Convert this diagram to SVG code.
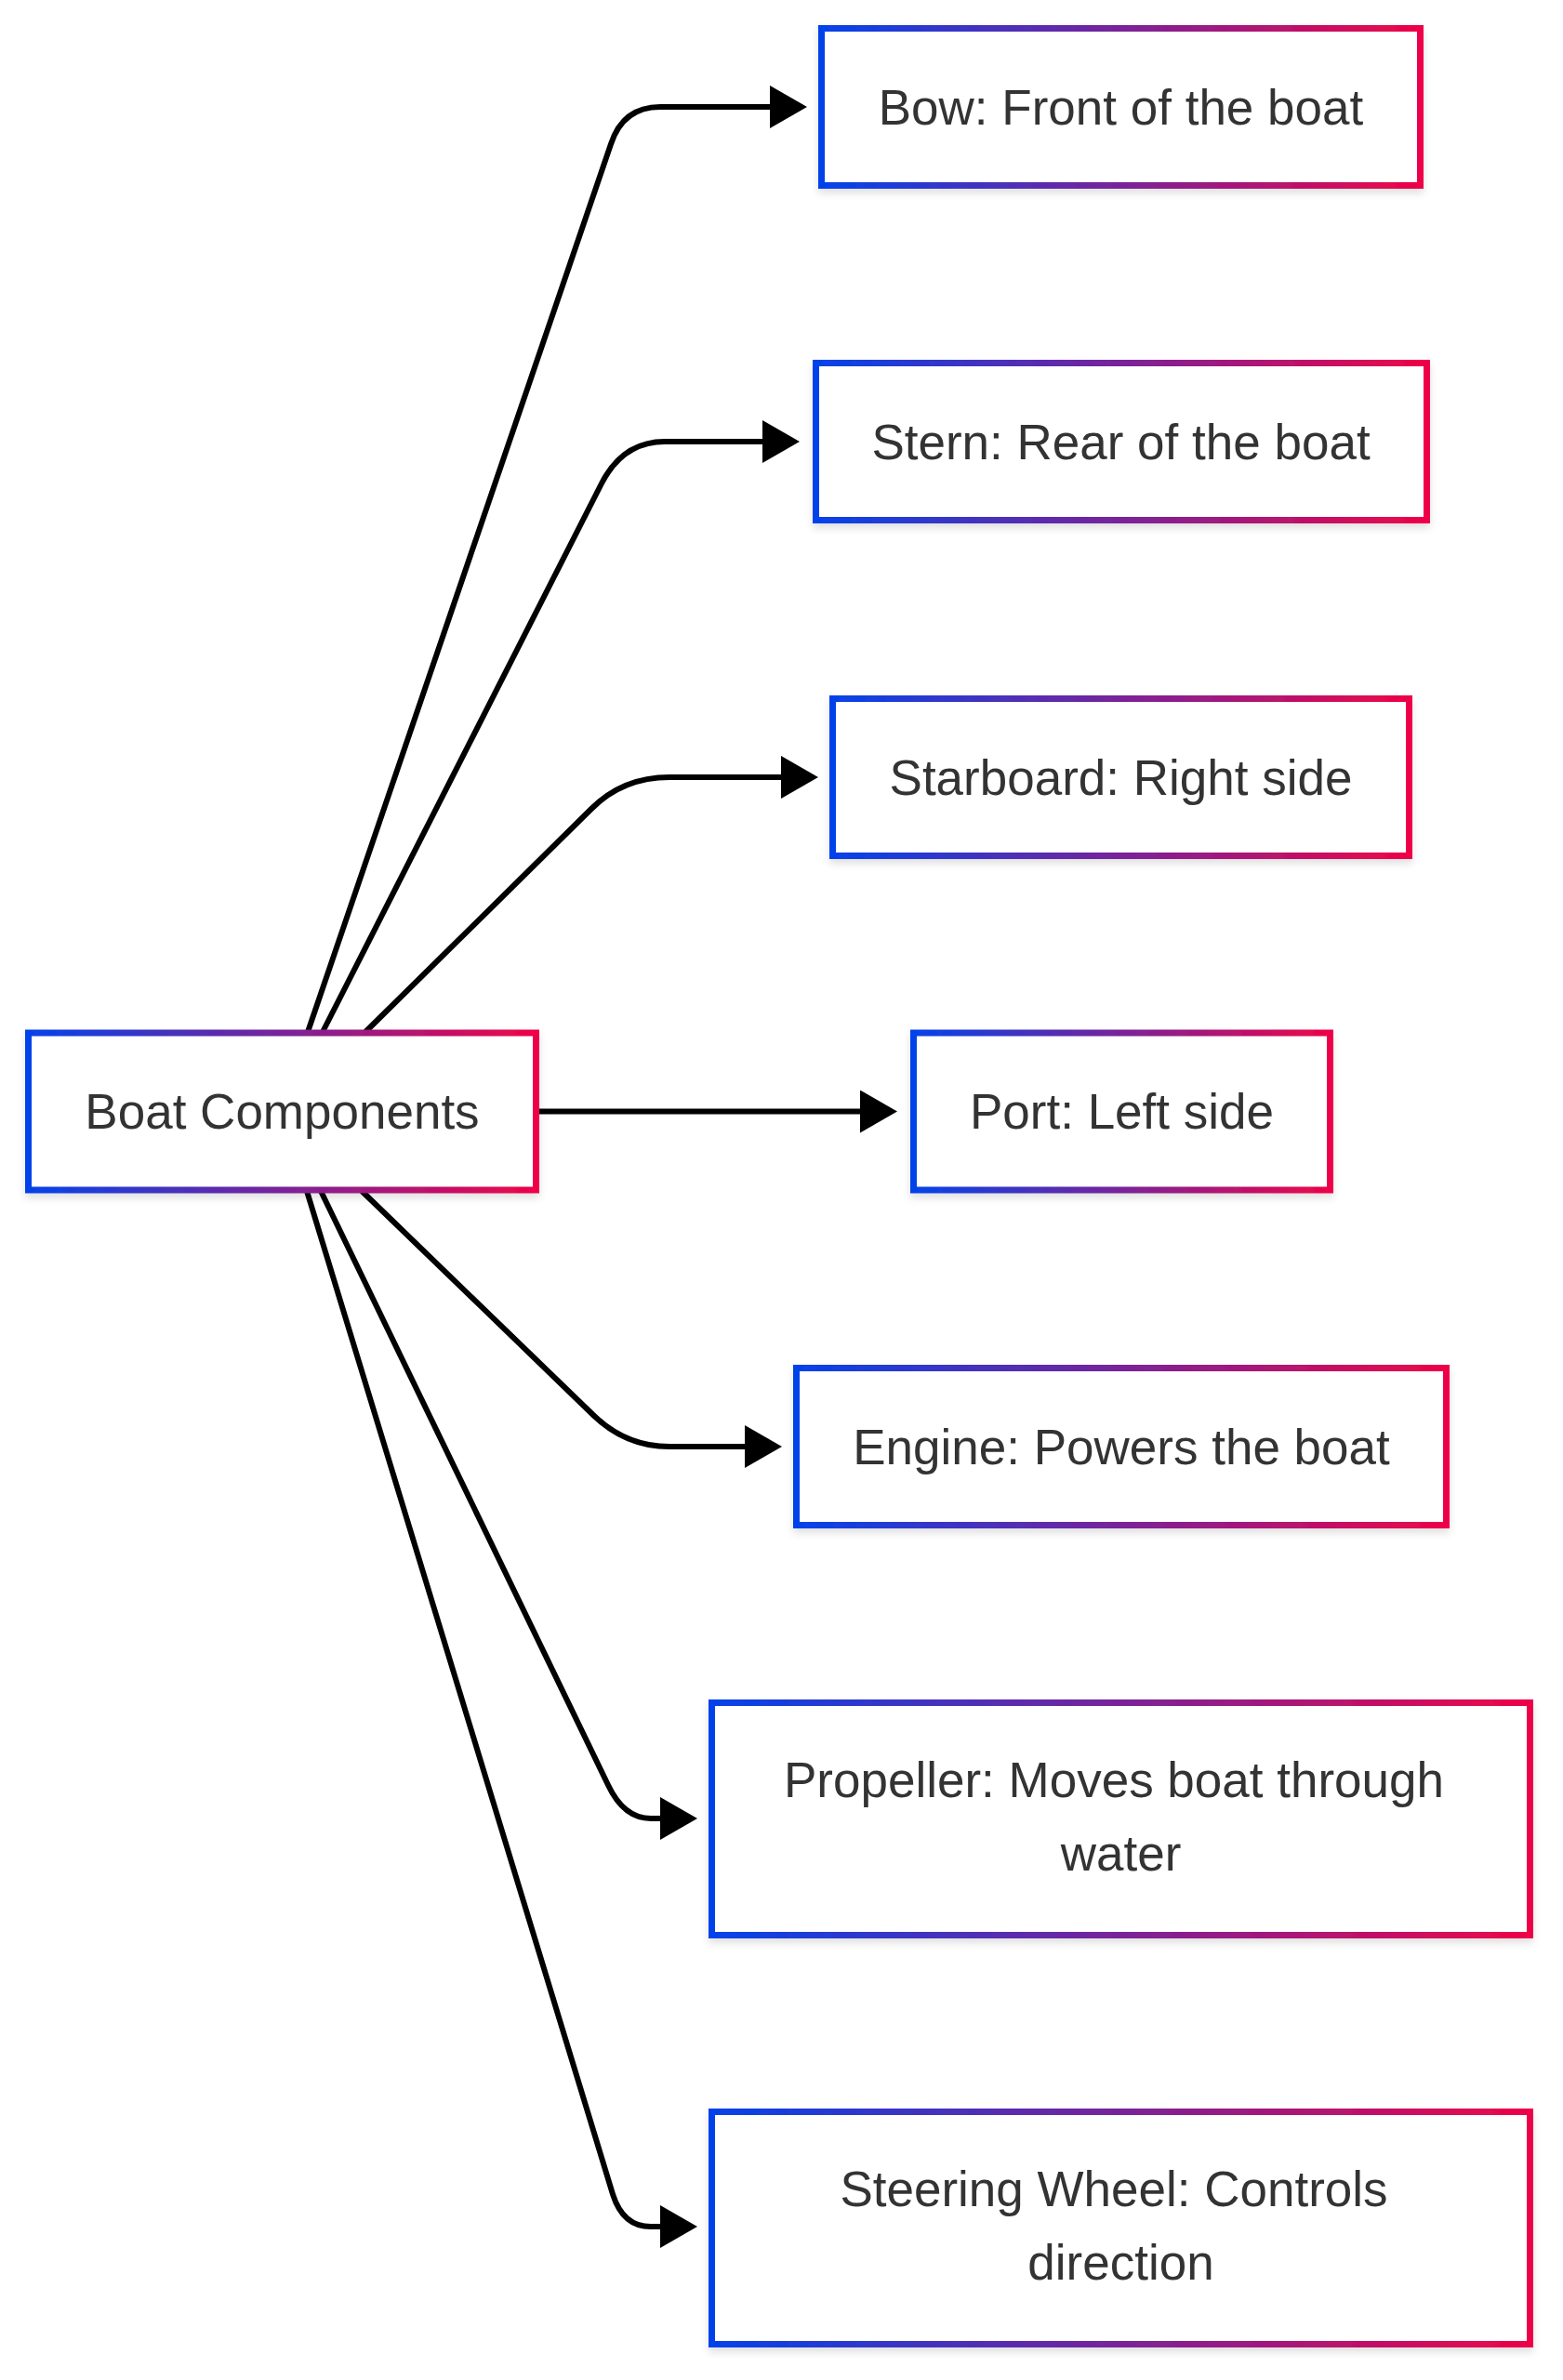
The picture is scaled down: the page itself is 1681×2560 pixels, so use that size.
<svg xmlns="http://www.w3.org/2000/svg" width="1681" height="2560" viewBox="0 0 1681 2560">
<style>
.box{fill:#ffffff;stroke:url(#g);stroke-width:7;filter:url(#sh)}
.lbl{font-family:"Liberation Sans",Arial,sans-serif;font-size:53px;fill:#333333;text-anchor:middle}
.edge{fill:none;stroke:#000000;stroke-width:6;marker-end:url(#ah)}
</style>
<defs>
<linearGradient id="g" x1="0" y1="0" x2="1" y2="0">
<stop offset="0" stop-color="#0443ea"/>
<stop offset="1" stop-color="#ee0448"/>
</linearGradient>
<filter id="sh" x="-10%" y="-20%" width="120%" height="140%">
<feDropShadow dx="0" dy="5" stdDeviation="4" flood-color="#000000" flood-opacity="0.12"/>
</filter>
<marker id="ah" markerUnits="userSpaceOnUse" markerWidth="42" markerHeight="46" refX="2" refY="23" orient="auto">
<path d="M0,0 L40,23 L0,46 z" fill="#000000"/>
</marker>
</defs>
<g id="connectors">
<path class="edge" d="M331,1110 L657,155 Q670,115 710,115 L830,115"/>
<path class="edge" d="M347,1110 L647,520 Q670,475 715,475 L822,475"/>
<path class="edge" d="M393,1110 L636,870 Q670,836 720,836 L842,836"/>
<path class="edge" d="M579,1195.5 L927,1195.5"/>
<path class="edge" d="M389,1281 L638,1522 Q673,1556 720,1556 L803,1556"/>
<path class="edge" d="M345,1281 L654,1920 Q671,1956 700,1956 L712,1956"/>
<path class="edge" d="M330,1281 L659,2360 Q670,2395 700,2395 L712,2395"/>
</g>
<g id="boat">
<rect class="box" x="30.5" y="1111" width="546" height="169"/>
<text class="lbl" x="303.5" y="1214">Boat Components</text>
</g>
<g id="bow">
<rect class="box" x="883.5" y="30.5" width="644" height="169"/>
<text class="lbl" x="1205.5" y="133.5">Bow: Front of the boat</text>
</g>
<g id="stern">
<rect class="box" x="877.5" y="390.5" width="657" height="169"/>
<text class="lbl" x="1205.5" y="493.5">Stern: Rear of the boat</text>
</g>
<g id="starboard">
<rect class="box" x="895.5" y="751.5" width="620" height="169"/>
<text class="lbl" x="1205.5" y="854.5">Starboard: Right side</text>
</g>
<g id="port">
<rect class="box" x="982.5" y="1111" width="448" height="169"/>
<text class="lbl" x="1206.5" y="1214">Port: Left side</text>
</g>
<g id="engine">
<rect class="box" x="856.5" y="1471.5" width="699" height="169"/>
<text class="lbl" x="1206" y="1574.5">Engine: Powers the boat</text>
</g>
<g id="propeller">
<rect class="box" x="765.5" y="1831.5" width="880" height="250"/>
<text class="lbl" x="1198" y="1933">Propeller: Moves boat through</text>
<text class="lbl" x="1205.5" y="2012">water</text>
</g>
<g id="steering">
<rect class="box" x="765.5" y="2271.5" width="880" height="250"/>
<text class="lbl" x="1198" y="2373">Steering Wheel: Controls</text>
<text class="lbl" x="1205.5" y="2452">direction</text>
</g>
</svg>
